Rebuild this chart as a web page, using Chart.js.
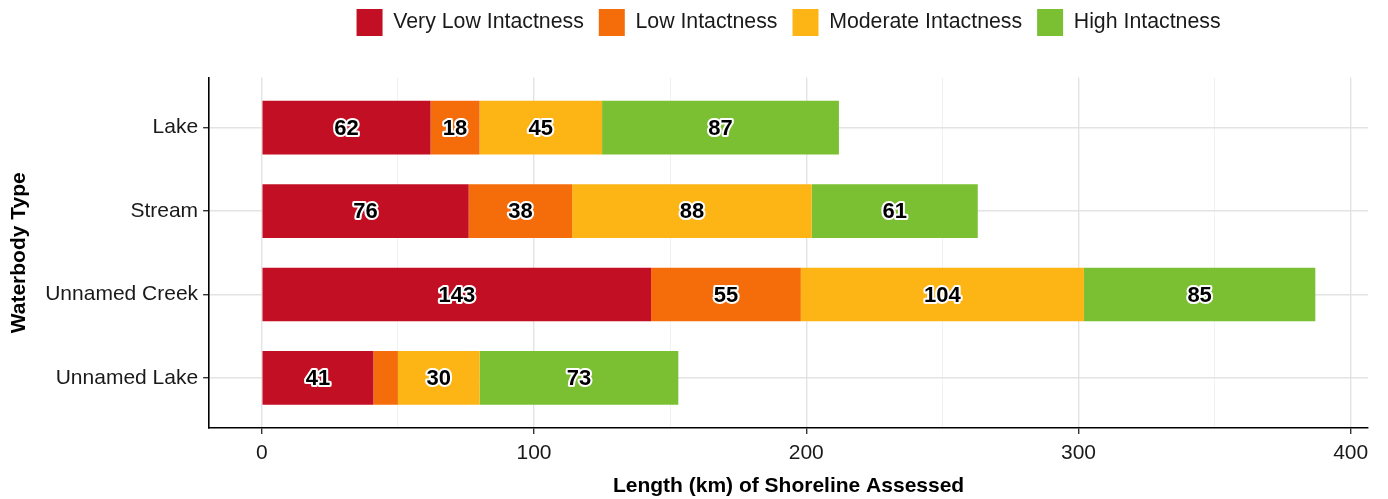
<!DOCTYPE html>
<html><head><meta charset="utf-8">
<script src="https://cdn.jsdelivr.net/npm/chart.js@4.4.1/dist/chart.umd.min.js"></script>
<style>html,body{margin:0;padding:0;background:#fff;} #wrap{width:1388px;height:499px;}</style>
</head><body><div id="wrap"><canvas id="c" width="1388" height="499"></canvas></div>
<script>
const categories = ['Lake', 'Stream', 'Unnamed Creek', 'Unnamed Lake'];
const seriesNames = ['Very Low Intactness', 'Low Intactness', 'Moderate Intactness', 'High Intactness'];
const veryLow = [62, 76, 143, 41];
const low = [18, 38, 55, 9];
const moderate = [45, 88, 104, 30];
const high = [87, 61, 85, 73];
const xTicks = [0, 50, 100, 150, 200, 250, 300, 350, 400];
const xLabelTicks = [0, 100, 200, 300, 400];
const colors = ['#C30F23', '#F56C0B', '#FDB515', '#7BBF33'];

const FONT = '"Liberation Sans", Arial, Helvetica, sans-serif';
const seriesValues = [veryLow, low, moderate, high];

const barLabels = {
  id: 'barLabels',
  afterDatasetsDraw(chart) {
    const ctx = chart.ctx;
    ctx.save();
    ctx.font = 'bold 22px ' + FONT;
    ctx.textAlign = 'center';
    ctx.textBaseline = 'middle';
    ctx.lineJoin = 'round';
    ctx.lineWidth = 4;
    ctx.strokeStyle = '#ffffff';
    ctx.fillStyle = '#000000';
    chart.data.datasets.forEach((ds, di) => {
      const meta = chart.getDatasetMeta(di);
      meta.data.forEach((el, i) => {
        const v = ds.data[i].x;
        if (v < 10) return;
        const p = el.getCenterPoint();
        ctx.strokeText(String(v), p.x, p.y + 1);
        ctx.fillText(String(v), p.x, p.y + 1);
      });
    });
    ctx.restore();
  }
};

new Chart(document.getElementById('c'), {
  type: 'bar',
  data: {
    datasets: seriesNames.map((name, si) => ({
      label: name,
      data: seriesValues[si].map((v, i) => ({ x: v, y: i })),
      backgroundColor: colors[si],
      borderWidth: 0,
      barPercentage: 0.643,
      categoryPercentage: 1
    }))
  },
  options: {
    indexAxis: 'y',
    responsive: false,
    animation: false,
    devicePixelRatio: 1,
    layout: { padding: { top: -6, right: 20, bottom: 0.6, left: 7 } },
    plugins: {
      tooltip: { enabled: false },
      legend: {
        position: 'top',
        fullSize: false,
        labels: {
          boxWidth: 26,
          boxHeight: 27,
          padding: 15,
          color: '#1a1a1a',
          font: { family: FONT, size: 21.3 }
        }
      }
    },
    scales: {
      x: {
        type: 'linear',
        stacked: true,
        min: -19.35,
        max: 406.35,
        afterBuildTicks: (s) => { s.ticks = xTicks.map(v => ({ value: v })); },
        ticks: {
          autoSkip: false,
          maxRotation: 0,
          padding: 7,
          color: '#1a1a1a',
          font: { family: FONT, size: 21 },
          callback: (v) => xLabelTicks.includes(v) ? String(v) : ''
        },
        grid: {
          color: (c) => (c.tick && c.tick.value % 100 === 0) ? '#e3e3e3' : '#eeeeee',
          lineWidth: (c) => (c.tick && c.tick.value % 100 === 0) ? 1.4 : 0.8,
          tickColor: (c) => (c.tick && c.tick.value % 100 === 0) ? '#333333' : 'rgba(0,0,0,0)',
          tickLength: 6
        },
        border: { display: true, color: '#000000', width: 1.6 },
        title: {
          display: true,
          text: 'Length (km) of Shoreline Assessed',
          color: '#000000',
          font: { family: FONT, size: 21, weight: 'bold' },
          padding: { top: 0, bottom: 0 }
        }
      },
      xTopSpacer: {
        type: 'linear',
        axis: 'x',
        position: 'top',
        display: true,
        grid: { display: false, drawOnChartArea: false, drawTicks: false },
        border: { display: false },
        ticks: { display: false },
        afterFit: (s) => { s.height = 31.6; }
      },
      y: {
        type: 'linear',
        stacked: true,
        reverse: true,
        offset: false,
        min: -0.6,
        max: 3.6,
        afterBuildTicks: (s) => { s.ticks = categories.map((c, i) => ({ value: i })); },
        ticks: {
          autoSkip: false,
          padding: 5,
          color: '#1a1a1a',
          font: { family: FONT, size: 21 },
          callback: (v) => categories[v]
        },
        grid: {
          offset: false,
          color: '#e3e3e3',
          lineWidth: 1.4,
          tickColor: '#333333',
          tickLength: 6
        },
        border: { display: true, color: '#000000', width: 1.6 },
        title: {
          display: true,
          text: 'Waterbody Type',
          color: '#000000',
          font: { family: FONT, size: 21, weight: 'bold' },
          padding: { top: 0, bottom: 8 }
        }
      }
    }
  },
  plugins: [barLabels]
});
</script>
</body></html>
